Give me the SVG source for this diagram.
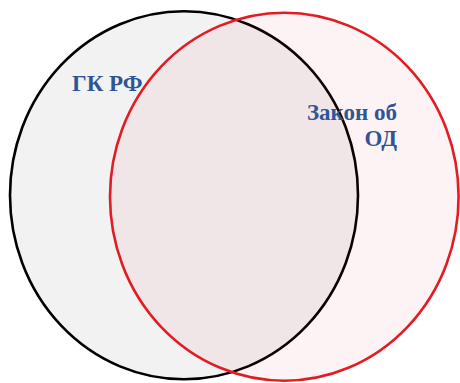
<svg xmlns="http://www.w3.org/2000/svg" width="460" height="383" viewBox="0 0 460 383">
<style>
.lbl{font-family:"Liberation Serif","Times New Roman",serif;font-weight:bold;font-size:23px;fill:#2F5597}
</style>
<rect width="460" height="383" fill="#FFFFFF"/>
<g id="gk-rf">
<ellipse cx="184" cy="195.3" rx="174" ry="184" fill="#F2F2F2" stroke="#000000" stroke-width="2.6"/>
</g>
<g id="zakon-od">
<ellipse cx="284.3" cy="196.7" rx="174.3" ry="184" fill="#E81123" fill-opacity="0.05" stroke="#E31B23" stroke-width="2.6"/>
</g>
<g id="labels">
<text class="lbl" x="72" y="91">ГК РФ</text>
<text class="lbl" x="397" y="120" text-anchor="end">Закон об</text>
<text class="lbl" x="397" y="145.5" text-anchor="end">ОД</text>
</g>
<g id="connectors"/>
</svg>
